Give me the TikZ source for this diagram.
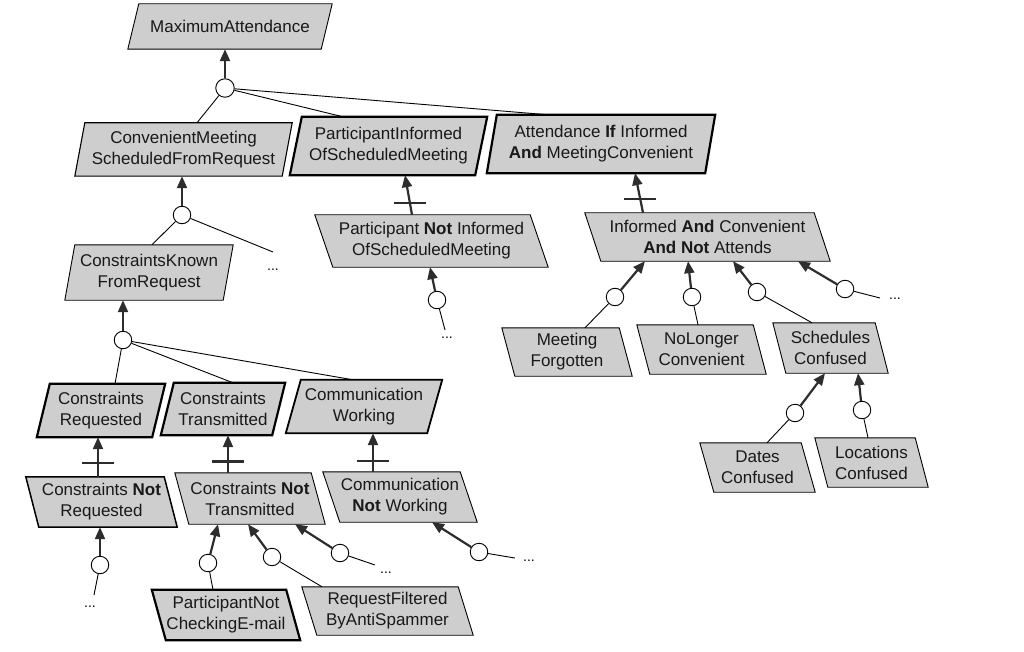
\documentclass[tikz,border=0pt]{standalone}
\usepackage{fontspec}
\setmainfont{Liberation Sans}
\usetikzlibrary{arrows.meta,backgrounds,calc}
\definecolor{boxgray}{RGB}{206,206,206}
\definecolor{arrgray}{RGB}{45,45,45}
\begin{document}
\begin{tikzpicture}[x=1pt,y=-1pt,
  box/.style={inner sep=0pt, align=center, font=\fontsize{17}{21}\selectfont, text=black!90},
  sz/.style 2 args={minimum width=#1pt, minimum height=#2pt},
  cir/.style={circle, draw, fill=white, minimum size=17.5pt, inner sep=0pt, line width=0.9pt},
  lnk/.style={line width=0.9pt},
  arr/.style={line width=2.2pt, draw=arrgray, -{Triangle[length=12pt,width=10pt]}},
  bar/.style={line width=2.2pt, draw=arrgray},
  dots/.style={inner sep=0pt, font=\fontsize{14}{14}\selectfont}
]
\useasboundingbox (0,0) rectangle (1024,652);

% goals
\node[box, sz={204}{45}] (max)   at (230,26.5)  {MaximumAttendance};
\node[box, sz={217}{53}] (cmsfr) at (183.5,149.5) {ConvenientMeeting\\ScheduledFromRequest};
\node[box, sz={197}{58}] (piosm) at (388.5,146) {ParticipantInformed\\OfScheduledMeeting};
\node[box, sz={228}{58}] (att)   at (601,144)   {Attendance \textbf{If} Informed\\\textbf{And} MeetingConvenient};
\node[box, sz={168}{55}] (ckfr)  at (149,272.5) {ConstraintsKnown\\FromRequest};
\node[box, sz={128}{53}] (cr)    at (101,410.5) {Constraints\\Requested};
\node[box, sz={124}{52}] (ct)    at (223,409)   {Constraints\\Transmitted};
\node[box, sz={156}{53}] (cw)    at (364,406.5) {Communication\\Working};
% obstacles
\node[box, sz={233}{52}] (pniosm) at (431.5,241) {Participant \textbf{Not} Informed\\OfScheduledMeeting};
\node[box, sz={245}{48}] (iacana) at (707.5,237) {Informed \textbf{And} Convenient\\\textbf{And Not} Attends};
\node[box, sz={130}{48}] (mf)    at (567,352)   {Meeting\\Forgotten};
\node[box, sz={129}{49}] (nlc)   at (701.5,349.5) {NoLonger\\Convenient};
\node[box, sz={115}{50}] (sc)    at (830.5,348) {Schedules\\Confused};
\node[box, sz={115}{49}] (dc)    at (757.5,467.5) {Dates\\Confused};
\node[box, sz={113}{49}] (lc)    at (871.5,462.5) {Locations\\Confused};
\node[box, sz={151}{50}] (cnr)   at (101.5,502) {Constraints \textbf{Not}\\Requested};
\node[box, sz={150}{51}] (cnt)   at (250,498.5) {Constraints \textbf{Not}\\Transmitted};
\node[box, sz={154}{50}] (cnw)   at (400,497)   {Communication\\\textbf{Not} Working};
\node[box, sz={148}{50}] (pnce)  at (226,615)   {ParticipantNot\\CheckingE-mail};
\node[box, sz={171}{48}] (rfbas) at (387.5,611) {RequestFiltered\\ByAntiSpammer};

\begin{scope}[on background layer]
\foreach \n/\s/\w in {max/11/0.9, cmsfr/10/1.1, piosm/12/2.2, att/10/2.2, ckfr/10/0.9, cr/13/2.2, ct/13/2.2, cw/15/1.8}
  \draw[fill=boxgray, line width=\w pt] ([xshift=\s pt]\n.north west) -- (\n.north east) -- ([xshift=-\s pt]\n.south east) -- (\n.south west) -- cycle;
\foreach \n/\s/\w in {pniosm/18/0.9, iacana/16/0.9, mf/13/0.9, nlc/13/0.9, sc/13/0.9, dc/14/0.9, lc/13/0.9, cnr/13/1.5, cnt/14/0.9, cnw/17/0.9, pnce/14/2.2, rfbas/15/0.9}
  \draw[fill=boxgray, line width=\w pt] (\n.north west) -- ([xshift=-\s pt]\n.north east) -- (\n.south east) -- ([xshift=\s pt]\n.south west) -- cycle;
\end{scope}

% refinement circles
\node[cir, minimum size=18.5pt] (c0) at (225,88) {};
\node[cir] (c1) at (182,215) {};
\node[cir] (c2) at (123,340) {};
\node[cir] (c3) at (437,300) {};
\node[cir] (c4) at (100,565) {};
\node[cir] (c5) at (208,563) {};
\node[cir] (c6) at (272,557) {};
\node[cir] (c7) at (340,553) {};
\node[cir] (c8) at (479,552) {};
\node[cir] (c9) at (615,297) {};
\node[cir] (c10) at (692,297) {};
\node[cir] (c11) at (757,292) {};
\node[cir] (c12) at (845,289) {};
\node[cir] (c13) at (795,413) {};
\node[cir] (c14) at (862,410) {};

% free ends and dots
\coordinate (e1) at (273,252);
\coordinate (e2) at (445,330);
\coordinate (e3) at (94,595);
\coordinate (e4) at (375,565);
\coordinate (e5) at (515,558);
\coordinate (e6) at (880,298);
\node[dots] (d1) at (273,270) {...};
\node[dots] (d2) at (447,338) {...};
\node[dots] (d3) at (90,607) {...};
\node[dots] (d4) at (386,573) {...};
\node[dots] (d5) at (529,561) {...};
\node[dots] (d6) at (895,299) {...};

% goal refinements
\draw[arr] (c0) -- ([xshift=-5pt]max.south);
\draw[lnk] (c0) -- ([xshift=13.5pt]cmsfr.north);
\draw[lnk] (c0) -- ([xshift=-45.5pt]piosm.north);
\draw[lnk] (c0) -- ([xshift=-53pt]att.north);

\draw[arr] (c1) -- ([xshift=-1.5pt]cmsfr.south);
\draw[lnk] (c1) -- ([xshift=3pt]ckfr.north);
\draw[lnk] (c1) -- (e1);

\draw[arr] (c2) -- ([xshift=-26pt]ckfr.south);
\draw[lnk] (c2) -- ([xshift=14pt]cr.north);
\draw[lnk] (c2) -- ([xshift=10pt]ct.north);
\draw[lnk] (c2) -- ([xshift=-11pt]cw.north);

% obstructions
\draw[arr] ([xshift=-19.5pt]pniosm.north) -- coordinate[pos=0.3] (k1) ([xshift=16.5pt]piosm.south);
\draw[bar] ([xshift=-16pt]k1) -- ([xshift=16pt]k1);
\draw[arr] ([xshift=-64.5pt]iacana.north) -- coordinate[pos=0.35] (k2) ([xshift=34pt]att.south);
\draw[bar] ([xshift=-16pt]k2) -- ([xshift=16pt]k2);
\draw[arr] ([xshift=-3.5pt]cnr.north) -- coordinate[pos=0.35] (k3) ([xshift=-3pt]cr.south);
\draw[bar] ([xshift=-16pt]k3) -- ([xshift=16pt]k3);
\draw[arr] ([xshift=-22pt]cnt.north) -- coordinate[pos=0.3] (k4) ([xshift=5pt]ct.south);
\draw[bar] ([xshift=-16pt]k4) -- ([xshift=16pt]k4);
\draw[arr] ([xshift=-27pt]cnw.north) -- coordinate[pos=0.27] (k5) ([xshift=9pt]cw.south);
\draw[bar] ([xshift=-16pt]k5) -- ([xshift=16pt]k5);

% obstacle refinements
\draw[arr] (c3) -- ([xshift=-1.5pt]pniosm.south);
\draw[lnk] (c3) -- (e2);

\draw[arr] (c4) -- ([xshift=-1.5pt]cnr.south);
\draw[lnk] (c4) -- (e3);

\draw[arr] (c5) -- ([xshift=-32pt]cnt.south);
\draw[lnk] (c5) -- ([xshift=-13pt]pnce.north);
\draw[arr] (c6) -- ([xshift=-2pt]cnt.south);
\draw[lnk] (c6) -- ([xshift=-65.5pt]rfbas.north);
\draw[arr] (c7) -- ([xshift=45pt]cnt.south);
\draw[lnk] (c7) -- (e4);

\draw[arr] (c8) -- ([xshift=32pt]cnw.south);
\draw[lnk] (c8) -- (e5);

\draw[arr] (c9) -- ([xshift=-62.5pt]iacana.south);
\draw[lnk] (c9) -- ([xshift=18pt]mf.north);
\draw[arr] (c10) -- ([xshift=-19.5pt]iacana.south);
\draw[lnk] (c10) -- ([xshift=-3.5pt]nlc.north);
\draw[arr] (c11) -- ([xshift=25.5pt]iacana.south);
\draw[lnk] (c11) -- ([xshift=-18.5pt]sc.north);
\draw[arr] (c12) -- ([xshift=90.5pt]iacana.south);
\draw[lnk] (c12) -- (e6);

\draw[arr] (c13) -- ([xshift=-5.5pt]sc.south);
\draw[lnk] (c13) -- ([xshift=9.5pt]dc.north);
\draw[arr] (c14) -- ([xshift=27.5pt]sc.south);
\draw[lnk] (c14) -- ([xshift=-3.5pt]lc.north);
\end{tikzpicture}
\end{document}
